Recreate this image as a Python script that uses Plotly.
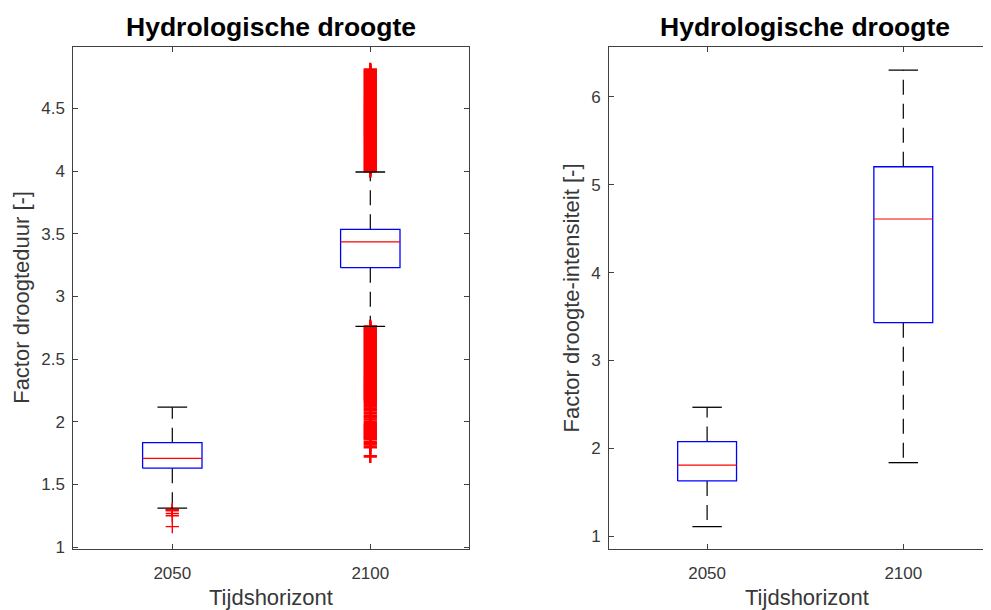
import plotly.graph_objects as go

# ---------------- data ----------------
categories = ["2050", "2100"]
positions = [1, 2]

# Left panel: Factor droogteduur [-]
duur_q1 = [1.629, 3.229]
duur_median = [1.708, 3.434]
duur_q3 = [1.833, 3.535]
duur_lower = [1.310, 2.761]
duur_upper = [2.116, 3.992]
duur_out_2050 = [1.300, 1.295, 1.290, 1.268, 1.250, 1.163]
duur_out_2100_high = [
    4.00, 4.01, 4.02, 4.03, 4.04, 4.05, 4.06, 4.07, 4.08, 4.09,
    4.10, 4.11, 4.12, 4.13, 4.14, 4.15, 4.16, 4.17, 4.18, 4.19,
    4.20, 4.21, 4.22, 4.23, 4.24, 4.25, 4.26, 4.27, 4.28, 4.29,
    4.30, 4.31, 4.32, 4.33, 4.34, 4.35, 4.36, 4.37, 4.38, 4.39,
    4.40, 4.41, 4.42, 4.43, 4.44, 4.45, 4.46, 4.47, 4.48, 4.49,
    4.50, 4.51, 4.52, 4.53, 4.54, 4.55, 4.56, 4.57, 4.58, 4.59,
    4.60, 4.61, 4.62, 4.63, 4.64, 4.65, 4.66, 4.67, 4.68, 4.69,
    4.70, 4.71, 4.72, 4.73, 4.74, 4.75, 4.76, 4.77, 4.78, 4.79,
    4.80, 4.81,
]
duur_out_2100_low = [
    2.76, 2.75, 2.74, 2.73, 2.72, 2.71, 2.70, 2.69, 2.68, 2.67,
    2.66, 2.65, 2.64, 2.63, 2.62, 2.61, 2.60, 2.59, 2.58, 2.57,
    2.56, 2.55, 2.54, 2.53, 2.52, 2.51, 2.50, 2.49, 2.48, 2.47,
    2.46, 2.45, 2.44, 2.43, 2.42, 2.41, 2.40, 2.39, 2.38, 2.37,
    2.36, 2.35, 2.34, 2.33, 2.32, 2.31, 2.30, 2.29, 2.28, 2.27,
    2.26, 2.25, 2.24, 2.23, 2.22, 2.21, 2.20, 2.19, 2.18, 2.17,
    2.157, 2.140, 2.122, 2.105, 2.090, 2.070, 2.050, 2.035, 2.018, 1.997,
    1.98, 1.97, 1.96, 1.95, 1.94, 1.93, 1.92, 1.91, 1.90, 1.89,
    1.88, 1.87, 1.86, 1.837, 1.819, 1.797, 1.723,
]

# Right panel: Factor droogte-intensiteit [-]
int_q1 = [1.630, 3.430]
int_median = [1.811, 4.610]
int_q3 = [2.078, 5.204]
int_lower = [1.111, 1.838]
int_upper = [2.468, 6.304]

# ---------------- styling ----------------
OFF = 8  # browser body margin
W, H = 991 - OFF, 610 - OFF
BOX_HALF = 0.15
CAP_HALF = 0.075
FONT = "Liberation Sans, Arial, Helvetica, sans-serif"
AX_COLOR = "#404040"
TXT_COLOR = "#383838"
OUTLIER_WIDTHS = [1.4, 2.6]


def px(x):
    return (x - OFF) / W


def py(y):
    return 1 - (y - OFF) / H


def box_traces(xa, ya, q1, med, q3, lo, hi, outliers):
    tr = []
    # whiskers (dashed)
    wx, wy = [], []
    for p, a, b, c, d in zip(positions, q1, q3, lo, hi):
        wx += [p, p, None, p, p, None]
        wy += [b, d, None, a, c, None]
    tr.append(go.Scatter(x=wx, y=wy, mode="lines", xaxis=xa, yaxis=ya,
                         line=dict(color="black", width=1.2, dash="15px,9px"),
                         hoverinfo="skip", showlegend=False))
    # outliers
    if outliers:
        ox, oy, ow = [], [], []
        for p, vals, w in zip(positions, outliers, OUTLIER_WIDTHS):
            ox += [p] * len(vals)
            oy += list(vals)
            ow += [w] * len(vals)
        tr.append(go.Scatter(x=ox, y=oy, mode="markers", xaxis=xa, yaxis=ya,
                             marker=dict(symbol="cross-thin", size=9.5,
                                         line=dict(color="#ff0000", width=ow)),
                             showlegend=False))
    # caps
    cx, cy = [], []
    for p, c, d in zip(positions, lo, hi):
        cx += [p - CAP_HALF, p + CAP_HALF, None, p - CAP_HALF, p + CAP_HALF, None]
        cy += [d, d, None, c, c, None]
    tr.append(go.Scatter(x=cx, y=cy, mode="lines", xaxis=xa, yaxis=ya,
                         line=dict(color="black", width=1.3),
                         hoverinfo="skip", showlegend=False))
    # boxes
    bx, by = [], []
    for p, a, b in zip(positions, q1, q3):
        bx += [p - BOX_HALF, p + BOX_HALF, p + BOX_HALF, p - BOX_HALF, p - BOX_HALF, None]
        by += [a, a, b, b, a, None]
    tr.append(go.Scatter(x=bx, y=by, mode="lines", xaxis=xa, yaxis=ya,
                         line=dict(color="#0000ff", width=1.3),
                         hoverinfo="skip", showlegend=False))
    # medians
    mx, my = [], []
    for p, m in zip(positions, med):
        mx += [p - BOX_HALF, p + BOX_HALF, None]
        my += [m, m, None]
    tr.append(go.Scatter(x=mx, y=my, mode="lines", xaxis=xa, yaxis=ya,
                         line=dict(color="#ff0000", width=1.2),
                         hoverinfo="skip", showlegend=False))
    return tr


fig = go.Figure()
for t in box_traces("x", "y", duur_q1, duur_median, duur_q3, duur_lower, duur_upper,
                    [duur_out_2050, duur_out_2100_high + duur_out_2100_low]):
    fig.add_trace(t)
for t in box_traces("x2", "y2", int_q1, int_median, int_q3, int_lower, int_upper, None):
    fig.add_trace(t)

# axes geometry (reference pixels)
L_x0, L_x1 = 73.3, 469.3
R_x0 = 609.0
R_unit = 196.2
y_top, y_bot = 47.3, 548.8

tickfont = dict(family=FONT, size=17, color=TXT_COLOR)
common_x = dict(showline=True, linecolor=AX_COLOR, linewidth=1, mirror="ticks",
                ticks="inside", ticklen=5, tickcolor=AX_COLOR, tickwidth=1,
                showgrid=False, zeroline=False, tickfont=tickfont,
                ticklabelstandoff=9,
                tickvals=positions, ticktext=categories, fixedrange=True)
common_y = dict(showline=True, linecolor=AX_COLOR, linewidth=1,
                ticks="inside", ticklen=5, tickcolor=AX_COLOR, tickwidth=1,
                showgrid=False, zeroline=False, tickfont=tickfont,
                ticklabelstandoff=4, fixedrange=True)

ydom = [py(y_bot), py(y_top)]
fig.update_layout(
    width=W, height=H,
    margin=dict(l=0, r=0, t=0, b=0, autoexpand=False),
    paper_bgcolor="white", plot_bgcolor="white",
    showlegend=False,
    xaxis=dict(common_x, domain=[px(L_x0), px(L_x1)], range=[0.5, 2.5], anchor="y"),
    yaxis=dict(common_y, domain=ydom, range=[0.986, 4.987], tick0=1, dtick=0.5,
               mirror="ticks", anchor="x"),
    xaxis2=dict(common_x, domain=[px(R_x0), 1.0],
                range=[0.5, 0.5 + (991 - R_x0) / R_unit], anchor="y2"),
    yaxis2=dict(common_y, domain=ydom, range=[0.858, 6.563], tick0=1, dtick=1,
                mirror=False, anchor="x2"),
)

title_font = dict(family=FONT, size=26.5, color="black")
label_font = dict(family=FONT, size=22, color=TXT_COLOR)
annos = [
    dict(text="<b>Hydrologische droogte</b>", x=px(271.3), y=py(27.5), font=title_font),
    dict(text="<b>Hydrologische droogte</b>", x=px(805.0), y=py(27.5), font=title_font),
    dict(text="Tijdshorizont", x=px(271.3), y=py(597.0), font=label_font),
    dict(text="Tijdshorizont", x=px(806.7), y=py(597.0), font=label_font),
    dict(text="Factor droogteduur [-]", x=px(22.0), y=py(297.8), font=label_font, textangle=-90),
    dict(text="Factor droogte-intensiteit [-]", x=px(571.7), y=py(297.8), font=label_font, textangle=-90),
]
for a in annos:
    fig.add_annotation(xref="paper", yref="paper", showarrow=False,
                       xanchor="center", yanchor="middle", **a)

fig.write_html("out.html")
